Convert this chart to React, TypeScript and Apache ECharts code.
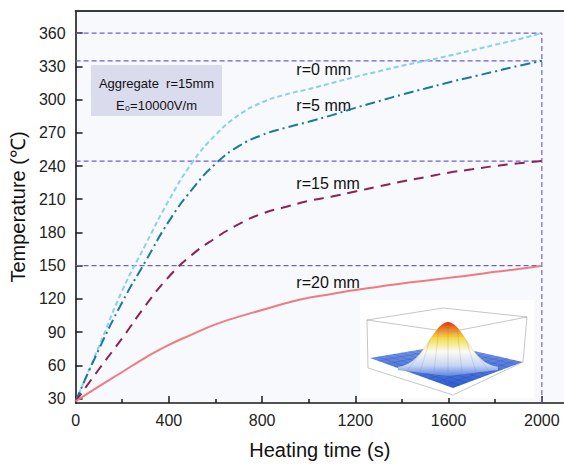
import React, { useEffect, useRef } from "react";
import * as echarts from "echarts";

// ---- data ----
const times = [0, 100, 200, 300, 400, 500, 600, 700, 800, 900, 1000, 1100, 1200, 1300, 1400, 1500, 1600, 1700, 1800, 1900, 2000];
const tempR0 = [27.5, 77, 127.5, 169, 209, 243, 268, 286, 297.5, 304.5, 309.5, 315, 320.5, 325.5, 330.5, 335, 339.5, 344.5, 349.5, 354.5, 360];
const tempR5 = [27.5, 74.5, 117, 154, 190, 219, 242, 258, 268, 274.5, 280, 286, 292.5, 298.5, 304.5, 310, 315.5, 320.5, 325.5, 330.5, 335];
const tempR15 = [27.5, 56.5, 84.5, 114, 140, 160, 175, 187.5, 197, 203, 208.5, 212.5, 217, 221.5, 226, 230, 234, 237, 240, 242.5, 244.5];
const tempR20 = [27.5, 41, 54, 67, 78.5, 88, 97, 104, 110, 116, 121, 124.5, 128, 131, 134, 136.5, 139, 141.5, 144.5, 147, 150];
const seriesNames = ["r=0 mm", "r=5 mm", "r=15 mm", "r=20 mm"];
const labelPos = [[947, 327.3], [947, 294.5], [947, 223.8], [947, 135.1]];
const refLevels = [360, 335, 244.5, 150];
const refTimeEnd = 2000;
const xTicks = [0, 400, 800, 1200, 1600, 2000];
const xMinorTicks = [200, 600, 1000, 1400, 1800];
const yTicks = [30, 60, 90, 120, 150, 180, 210, 240, 270, 300, 330, 360];
const X_MIN = 0, X_MAX = 2095, Y_MIN = 26, Y_MAX = 380;

const FONT = "'Liberation Sans', Arial, sans-serif";
const REF_COLOR = "#6c5ddc";

function pairs(vals: number[]) {
  return times.map((t, i) => [t, vals[i]]);
}

function buildInset() {
  const els: any[] = [];
  els.push({ type: "rect", shape: { x: 360, y: 300, width: 174, height: 98 }, style: { fill: "#ffffff" }, z: 10, silent: true });
  const L = [370, 358], B = [447, 345], R = [523, 362], F = [453, 388];
  els.push({
    type: "polygon", z: 11, silent: true,
    shape: { points: [L, B, R, F] },
    style: {
      fill: new echarts.graphic.LinearGradient(0, 1, 0, 0, [
        { offset: 0, color: "#2d5bd0" },
        { offset: 1, color: "#7a9cec" },
      ]),
    },
  });
  const lerp = (a: number[], b: number[], t: number) => [a[0] + (b[0] - a[0]) * t, a[1] + (b[1] - a[1]) * t];
  for (let i = 1; i < 10; i++) {
    const t = i / 10;
    els.push({ type: "line", z: 12, silent: true, shape: { x1: lerp(L, F, t)[0], y1: lerp(L, F, t)[1], x2: lerp(B, R, t)[0], y2: lerp(B, R, t)[1] }, style: { stroke: "rgba(20,40,110,0.35)", lineWidth: 0.5 } });
    els.push({ type: "line", z: 12, silent: true, shape: { x1: lerp(L, B, t)[0], y1: lerp(L, B, t)[1], x2: lerp(F, R, t)[0], y2: lerp(F, R, t)[1] }, style: { stroke: "rgba(20,40,110,0.35)", lineWidth: 0.5 } });
  }
  const pts: number[][] = [];
  for (let i = 0; i <= 40; i++) {
    const x = 398 + (i / 40) * 100;
    const y = 368 - 46 * Math.exp(-Math.pow((x - 448) / 26, 2));
    pts.push([x, y]);
  }
  pts.push([498, 370], [448, 376], [398, 370]);
  els.push({
    type: "polygon", z: 13, silent: true,
    shape: { points: pts, smooth: 0 },
    style: {
      fill: new echarts.graphic.LinearGradient(0, 0, 0, 1, [
        { offset: 0, color: "#e2301e" },
        { offset: 0.12, color: "#f07a1e" },
        { offset: 0.3, color: "#f3dc4a" },
        { offset: 0.55, color: "#fbfbf4" },
        { offset: 0.8, color: "#c9d6f4" },
        { offset: 1, color: "#5d86e6" },
      ]),
      stroke: "rgba(120,120,120,0.25)",
      lineWidth: 0.5,
    },
  });
  for (let k = -3; k <= 3; k++) {
    const cx = 448 + k * 9;
    const yTop = 368 - 46 * Math.exp(-Math.pow((cx - 448) / 26, 2));
    els.push({ type: "line", z: 14, silent: true, shape: { x1: cx, y1: yTop, x2: 448 + k * 14, y2: 372 }, style: { stroke: "rgba(90,90,90,0.3)", lineWidth: 0.5 } });
  }
  const box = [
    [[367, 320], [443, 308], [527, 317]],
    [[367, 320], [368, 368]],
    [[527, 317], [523, 362]],
    [[368, 368], [453, 395], [523, 362]],
    [[367, 320], [450, 332], [527, 317]],
  ];
  box.forEach((p) => els.push({ type: "polyline", z: 15, silent: true, shape: { points: p }, style: { stroke: "#a0a0a0", lineWidth: 0.6, fill: null } }));
  return els;
}

export default function App() {
  const ref = useRef<HTMLDivElement>(null);
  useEffect(() => {
    const chart = echarts.init(ref.current!, null, { renderer: "svg" });
    const colors = ["#8ad0ee", "#1b7a9c", "#8b2356", "#ee7a82"];
    const dashes: any[] = [[5, 3], [10, 4, 2, 4], [10, 7], "solid"];
    const data = [tempR0, tempR5, tempR15, tempR20];
    const series: any[] = [];
    refLevels.forEach((v, i) => {
      series.push({
        name: "ref" + i,
        type: "line",
        data: [[X_MIN, v], [refTimeEnd, v]],
        showSymbol: false,
        symbol: "none",
        silent: true,
        z: 3,
        lineStyle: { color: REF_COLOR, width: 1.2, type: [5, 3] },
      });
    });
    series.push({
      name: "refV",
      type: "line",
      data: [[refTimeEnd, Y_MIN], [refTimeEnd, refLevels[0]]],
      showSymbol: false,
      symbol: "none",
      silent: true,
      z: 3,
      lineStyle: { color: REF_COLOR, width: 1.2, type: [5, 3] },
    });
    data.forEach((vals, i) => {
      series.push({
        name: seriesNames[i],
        type: "line",
        data: pairs(vals),
        smooth: 0.5,
        showSymbol: false,
        symbol: "none",
        lineStyle: { color: colors[i], width: 2, type: dashes[i] },
        z: 5,
        markPoint: {
          symbol: "circle",
          symbolSize: 0,
          silent: true,
          data: [{ coord: labelPos[i] }],
          label: {
            show: true,
            position: "right",
            distance: 0,
            formatter: seriesNames[i],
            color: "#111",
            fontSize: 16,
            fontFamily: FONT,
          },
        },
      });
    });

    const plain = (v: number) => String(v);
    const option: any = {
      animation: false,
      backgroundColor: "#ffffff",
      textStyle: { fontFamily: FONT },
      grid: { left: 73, right: 0, top: 11, bottom: 58, show: true, backgroundColor: "#f8f9fd", borderWidth: 0 },
      xAxis: [
        {
          type: "value", min: X_MIN, max: X_MAX, position: "bottom",
          name: "Heating time (s)", nameLocation: "middle", nameGap: 37,
          nameTextStyle: { fontSize: 20, color: "#111", fontFamily: FONT },
          axisLine: { show: true, onZero: false, lineStyle: { color: "#1a1a1a", width: 1.6 } },
          axisTick: { show: true, inside: true, length: 7, customValues: xTicks, lineStyle: { color: "#1a1a1a", width: 1.5 } },
          axisLabel: { customValues: xTicks, formatter: plain, fontSize: 16, color: "#222", margin: 9, fontFamily: FONT },
          splitLine: { show: false },
        },
        {
          type: "value", min: X_MIN, max: X_MAX, position: "bottom",
          axisLine: { show: false },
          axisTick: { show: true, inside: true, length: 4, customValues: xMinorTicks, lineStyle: { color: "#1a1a1a", width: 1.5 } },
          axisLabel: { show: false },
          splitLine: { show: false },
        },
        {
          type: "value", min: X_MIN, max: X_MAX, position: "top",
          axisLine: { show: true, onZero: false, lineStyle: { color: "#3a3a3a", width: 2 } },
          axisTick: { show: false }, axisLabel: { show: false }, splitLine: { show: false },
        },
      ],
      yAxis: [
        {
          type: "value", min: Y_MIN, max: Y_MAX,
          name: "Temperature (℃)", nameLocation: "middle", nameGap: 44,
          nameTextStyle: { fontSize: 20, color: "#111", fontFamily: FONT },
          axisLine: { show: true, onZero: false, lineStyle: { color: "#1a1a1a", width: 1.6 } },
          axisTick: { show: true, inside: true, length: 7, customValues: yTicks, lineStyle: { color: "#1a1a1a", width: 1.5 } },
          axisLabel: { customValues: yTicks, formatter: plain, fontSize: 16, color: "#222", margin: 10, fontFamily: FONT },
          splitLine: { show: false },
        },
      ],
      series,
      graphic: [
        { type: "rect", shape: { x: 91, y: 65, width: 131, height: 51 }, style: { fill: "#dbdbee" }, z: 10, silent: true },
        { type: "text", x: 156.5, y: 83, z: 11, style: { text: "Aggregate  r=15mm", fontSize: 13, fill: "#111", align: "center", verticalAlign: "middle", fontFamily: FONT } },
        { type: "text", x: 156.5, y: 105, z: 11, style: { text: "E₀=10000V/m", fontSize: 13, fill: "#111", align: "center", verticalAlign: "middle", fontFamily: FONT } },
        ...buildInset(),
      ],
    };
    chart.setOption(option);
    return () => chart.dispose();
  }, []);
  return <div ref={ref} style={{ position: "fixed", left: 0, top: 0, width: 564, height: 465 }} />;
}
